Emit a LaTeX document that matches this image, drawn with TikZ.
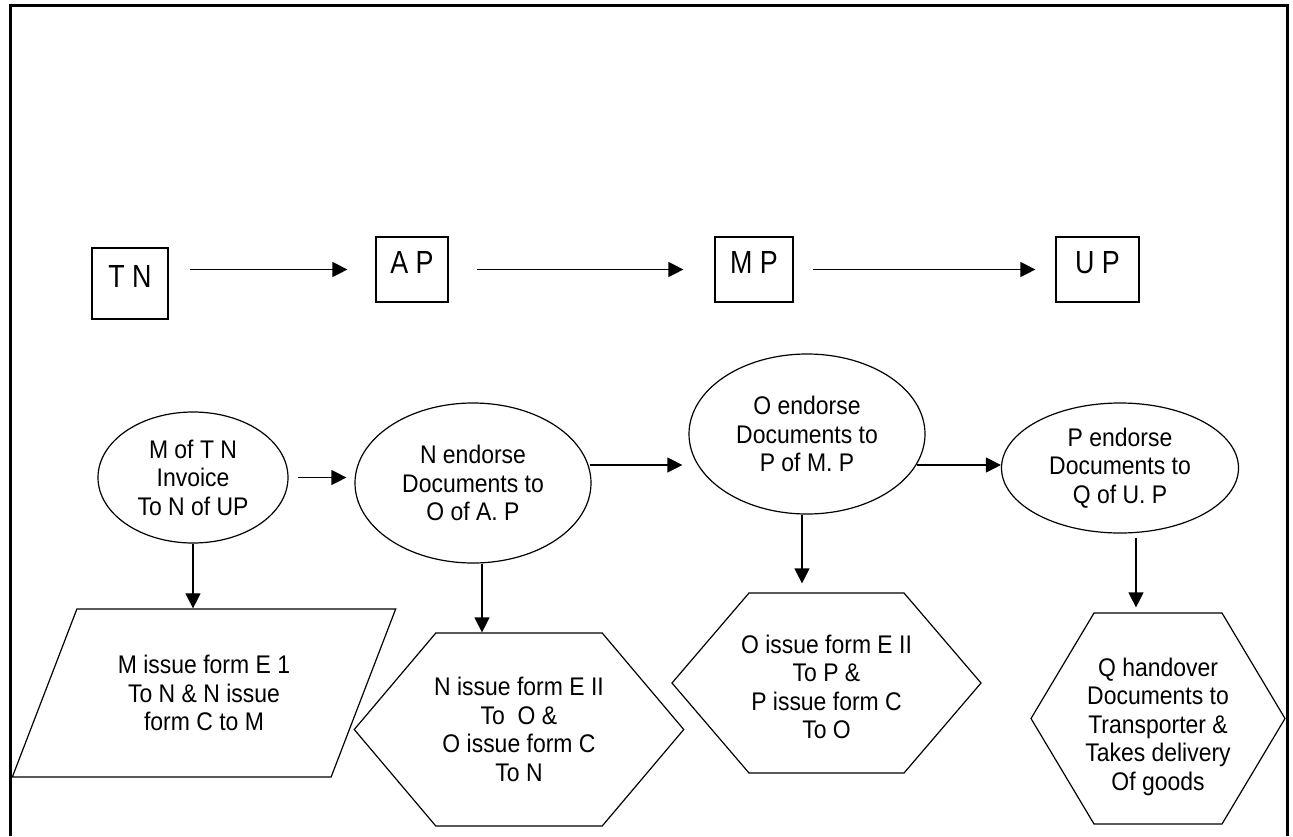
\documentclass[tikz,border=0pt]{standalone}
\usepackage{fontspec}
\setmainfont{Liberation Sans}[FakeStretch=0.9]
\newfontfamily\narrowtop{Liberation Sans}[FakeStretch=0.84]
\usetikzlibrary{arrows.meta,shapes.geometric,shapes.symbols}

\begin{document}
\begin{tikzpicture}[x=1pt,y=-1pt,
  every node/.style={inner sep=0pt, line width=1.2pt},
  plate/.style={draw, font=\narrowtop\fontsize{32}{34}\selectfont},
  oval/.style={draw, ellipse, align=center, font=\fontsize{25.5}{28.5}\selectfont},
  slant/.style={draw, trapezium, trapezium left angle=60, trapezium right angle=120,
    trapezium stretches=true, align=center, font=\fontsize{25.5}{28.5}\selectfont},
  hexa/.style={draw, signal, signal to=west and east},
  words/.style={align=center, font=\fontsize{25.5}{28.5}\selectfont},
  arr/.style={line width=1.2pt, -{Triangle[length=15pt,width=15pt]}}]
\useasboundingbox (0,0) rectangle (1293,836);

\draw[line width=3pt] (10.5,836) -- (10.5,5.5) -- (1287,5.5) -- (1287,836);

%%%%%%%%%%%%%%%%%%%%%%%%%%%%
\node[plate, minimum width=76pt, text height=39pt, text depth=32pt] (tn) at (130,283.5) {T N};
\node[plate, minimum width=72pt, text height=36pt, text depth=29pt] (ap) at (412,269.5) {A P};
\node[plate, minimum width=78pt, text height=36pt, text depth=29pt] (mp) at (754,269.5) {M P};
\node[plate, minimum width=83pt, text height=36pt, text depth=29pt] (up) at (1097.5,269.5) {U P};

\draw[arr, shorten <=21pt, shorten >=28pt] (tn.east |- ap.west) -- (ap.west);
\draw[arr, shorten <=28pt, shorten >=31pt] (ap.east) -- (mp.west);
\draw[arr, shorten <=19pt, shorten >=20pt] (mp.east) -- (up.west);

%%%%%%%%%%%%%%%%%%%%%%%%%%%%
\node[oval, minimum width=190pt, minimum height=131pt] (e1) at (193,477.5)
  {M of T N\\Invoice\\To N of UP};
\node[oval, minimum width=236pt, minimum height=160pt] (e2) at (473,483)
  {N endorse\\Documents to\\O of A. P};
\node[oval, minimum width=236pt, minimum height=160pt] (e3) at (807,434)
  {O endorse\\Documents to\\P of M. P};
\node[oval, minimum width=237pt, minimum height=130pt] (e4) at (1120,468)
  {P endorse\\Documents to\\Q of U. P};

\coordinate (c23) at ([xshift=-2pt,yshift=18pt]e2.east);
\coordinate (c34) at ([xshift=-9pt,yshift=-31pt]e3.east);
\draw[arr, shorten <=9pt, shorten >=8pt] (e1.east) -- (e1.east -| e2.west);
\draw[arr, shorten >=6pt] (c23) -- (c23 -| e3.west);
\draw[arr] (c34) -- (c34 -| e4.west);

%%%%%%%%%%%%%%%%%%%%%%%%%%%%
\node[slant, minimum width=384pt, minimum height=168pt] (para) at (204,693)
  {M issue form E 1\\To N \& N issue\\form C to M};
\node[hexa, signal pointer angle=99.6, minimum width=329.5pt, minimum height=193pt] (hx1) at (519,729.5) {};
\node[hexa, signal pointer angle=98.9, minimum width=309pt, minimum height=180pt] (hx2) at (826.5,683) {};
\node[hexa, signal pointer angle=118.3, minimum width=254pt, minimum height=211pt] (hx3) at (1158,718.5) {};

\node[words] (hx1t) at (hx1) {N issue form E II\\To\ \ O \&\\O issue form C\\To N};
\node[words] (hx2t) at ([yshift=-4pt]hx2) {O issue form E II\\To P \&\\P issue form C\\To O};
\node[words] (hx3t) at ([yshift=-8pt]hx3) {Q handover\\Documents to\\Transporter \&\\Takes delivery\\Of goods};

\coordinate (c2) at ([xshift=9pt]e2.south);
\coordinate (c3) at ([xshift=-5pt]e3.south);
\coordinate (c4) at ([xshift=16pt]e4.south);
\draw[arr] (e1.south) -- (e1.south |- para.north);
\draw[arr] (c2) -- (c2 |- hx1.north);
\draw[arr, shorten >=9pt] (c3) -- (c3 |- hx2.north);
\draw[arr, shorten <=4pt, shorten >=5pt] (c4) -- (c4 |- hx3.north);
\end{tikzpicture}
\end{document}
